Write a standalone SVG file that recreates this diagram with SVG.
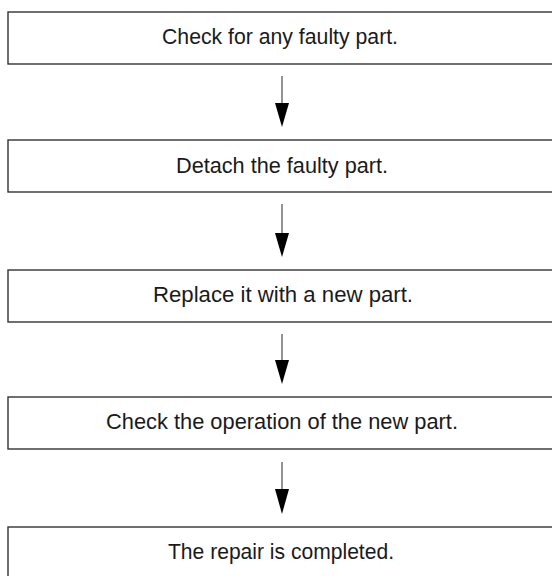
<svg xmlns="http://www.w3.org/2000/svg" width="552" height="576" viewBox="0 0 552 576">
<style>
.box{fill:#fff;stroke:#333;stroke-width:1.4}
.lbl{font-family:"Liberation Sans",Arial,sans-serif;font-size:22px;fill:#1a1a1a;text-anchor:middle}
.con{stroke:#666;stroke-width:1.4;fill:none}
.head{fill:#000}
</style>
<rect width="552" height="576" fill="#fff"/>
<g id="connectors">
<line class="con" x1="282" y1="76" x2="282" y2="103"/>
<path class="head" d="M275,103 L289,103 L282,127 Z"/>
<line class="con" x1="282" y1="204" x2="282" y2="233"/>
<path class="head" d="M275,233 L289,233 L282,257 Z"/>
<line class="con" x1="282" y1="334" x2="282" y2="360"/>
<path class="head" d="M275,360 L289,360 L282,384 Z"/>
<line class="con" x1="282" y1="462" x2="282" y2="489"/>
<path class="head" d="M275,489 L289,489 L282,514 Z"/>
</g>
<g id="n1"><rect class="box" x="8" y="12" width="560" height="52"/><text class="lbl" x="280" y="44" textLength="236" lengthAdjust="spacingAndGlyphs">Check for any faulty part.</text></g>
<g id="n2"><rect class="box" x="8" y="140" width="560" height="52"/><text class="lbl" x="282" y="172.5" textLength="212" lengthAdjust="spacingAndGlyphs">Detach the faulty part.</text></g>
<g id="n3"><rect class="box" x="8" y="270" width="560" height="52"/><text class="lbl" x="283" y="302" textLength="260" lengthAdjust="spacingAndGlyphs">Replace it with a new part.</text></g>
<g id="n4"><rect class="box" x="8" y="397" width="560" height="52"/><text class="lbl" x="282" y="429" textLength="352" lengthAdjust="spacingAndGlyphs">Check the operation of the new part.</text></g>
<g id="n5"><rect class="box" x="8" y="527" width="560" height="52"/><text class="lbl" x="281" y="559" textLength="226" lengthAdjust="spacingAndGlyphs">The repair is completed.</text></g>
</svg>
